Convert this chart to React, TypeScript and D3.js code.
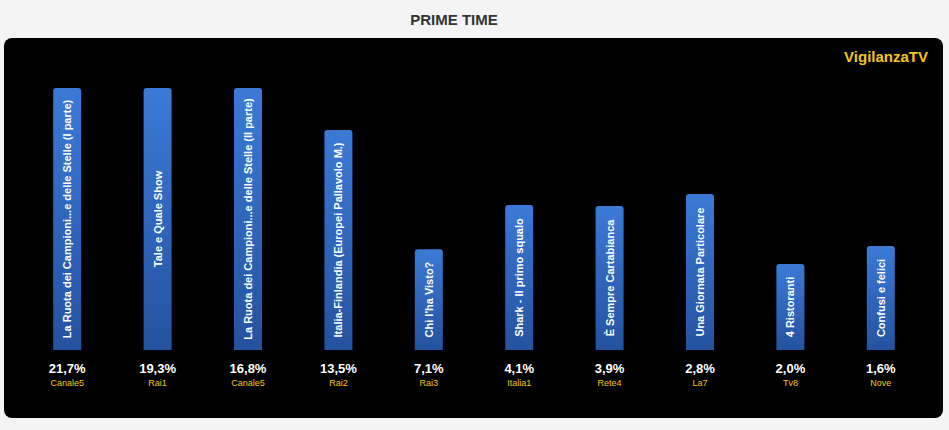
import React from "react";
import * as d3 from "d3";

const programs = [
  "La Ruota dei Campioni...e delle Stelle (I parte)",
  "Tale e Quale Show",
  "La Ruota dei Campioni...e delle Stelle (II parte)",
  "Italia-Finlandia (Europei Pallavolo M.)",
  "Chi l'ha Visto?",
  "Shark - Il primo squalo",
  "È Sempre Cartabianca",
  "Una Giornata Particolare",
  "4 Ristoranti",
  "Confusi e felici",
];
const shares = ["21,7%", "19,3%", "16,8%", "13,5%", "7,1%", "4,1%", "3,9%", "2,8%", "2,0%", "1,6%"];
const channels = ["Canale5", "Rai1", "Canale5", "Rai2", "Rai3", "Italia1", "Rete4", "La7", "Tv8", "Nove"];
const barValues = [100, 100, 100, 84, 38.5, 55.3, 55, 59.5, 32.8, 39.7];

const W = 949;
const H = 430;
const FONT = "'Liberation Sans', Arial, Helvetica, sans-serif";

export default function App() {
  const x = d3.scaleBand<number>().domain(d3.range(programs.length)).range([22, 926]).padding(0);
  const y = d3.scaleLinear().domain([0, 100]).range([350, 88]);
  const bw = 28;
  const r = 3;

  const barPath = (i: number) => {
    const cx = (x(i) as number) + x.bandwidth() / 2;
    const x0 = cx - bw / 2;
    const x1 = cx + bw / 2;
    const top = y(barValues[i]);
    const bottom = y(0);
    const p = d3.path();
    p.moveTo(x0, bottom);
    p.lineTo(x0, top + r);
    p.quadraticCurveTo(x0, top, x0 + r, top);
    p.lineTo(x1 - r, top);
    p.quadraticCurveTo(x1, top, x1, top + r);
    p.lineTo(x1, bottom);
    p.closePath();
    return p.toString();
  };

  return (
    <svg
      width={W}
      height={H}
      style={{ position: "absolute", left: 0, top: 0, display: "block" }}
      fontFamily={FONT}
    >
      <defs>
        <linearGradient id="barGrad" x1="0" y1="0" x2="0" y2="1">
          <stop offset="0%" stopColor="#3a7ad6" />
          <stop offset="100%" stopColor="#2452a0" />
        </linearGradient>
      </defs>
      <rect x={0} y={0} width={W} height={H} fill="#f4f4f4" />
      <text x={454} y={25} textAnchor="middle" fontSize={15} fontWeight="bold" fill="#333">
        PRIME TIME
      </text>
      <rect x={4} y={38} width={939} height={380} rx={8} ry={8} fill="#000" />
      <text x={928} y={62} textAnchor="end" fontSize={15} fontWeight="bold" fill="#f5c518">
        VigilanzaTV
      </text>
      {programs.map((name, i) => {
        const cx = (x(i) as number) + x.bandwidth() / 2;
        const top = y(barValues[i]);
        const mid = (top + y(0)) / 2;
        return (
          <g key={i}>
            <path d={barPath(i)} fill="url(#barGrad)" />
            <text
              transform={`translate(${cx},${mid}) rotate(-90)`}
              textAnchor="middle"
              dominantBaseline="central"
              fontSize={11}
              fontWeight="bold"
              fill="#fff"
            >
              {name}
            </text>
            <text x={cx} y={373} textAnchor="middle" fontSize={13} fontWeight="bold" fill="#fff">
              {shares[i]}
            </text>
            <text x={cx} y={386} textAnchor="middle" fontSize={9} fill="#f5c518">
              {channels[i]}
            </text>
          </g>
        );
      })}
    </svg>
  );
}
